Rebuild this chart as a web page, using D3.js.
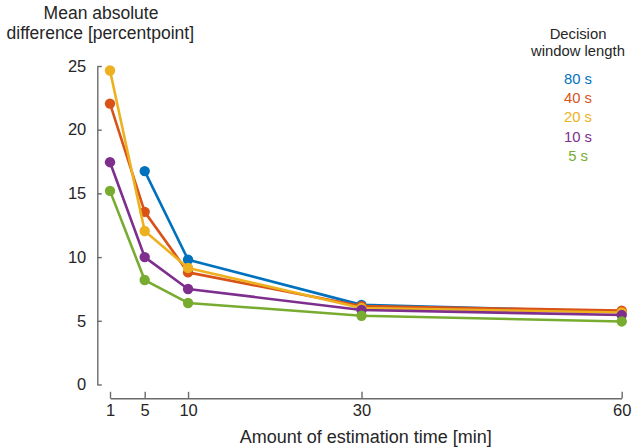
<!DOCTYPE html>
<html>
<head>
<meta charset="utf-8">
<script src="https://cdn.jsdelivr.net/npm/d3@7"></script>
<style>
  html, body { margin: 0; padding: 0; background: #fff; }
  svg { display: block; }
  text { font-family: "Liberation Sans", Arial, sans-serif; fill: #262626; }
</style>
</head>
<body>
<svg id="chart" width="632" height="448"></svg>
<script>
// ---- data ----
const times = [1, 5, 10, 30, 60];
const seriesNames = ["80 s", "40 s", "20 s", "10 s", "5 s"];
const seriesColors = ["#0072BD", "#D95319", "#EDB120", "#7E2F8E", "#77AC30"];
const values80 = [null, 16.75, 9.8, 6.25, 5.7];
const values40 = [22.05, 13.55, 8.8, 6.15, 5.8];
const values20 = [24.65, 12.05, 9.15, 6.0, 5.65];
const values10 = [17.45, 10.0, 7.5, 5.85, 5.45];
const values5  = [15.2, 8.2, 6.4, 5.4, 4.95];
const xTicks = [1, 5, 10, 30, 60];
const yTicks = [0, 5, 10, 15, 20, 25];

const allValues = [values80, values40, values20, values10, values5];

const svg = d3.select("#chart");

const x = d3.scaleLinear().domain([1, 60]).range([110, 621.7]);
const y = d3.scaleLinear().domain([0, 25]).range([384.5, 66]);

const axisColor = "#6b6b6b";

// y axis (detached, ticks inward)
const yAxisX = 97.3;
const yAxis = d3.axisLeft(y).tickValues(yTicks).tickSizeInner(-4.5).tickSizeOuter(0).tickPadding(11);
const gy = svg.append("g").attr("transform", `translate(${yAxisX},0)`).call(yAxis);
gy.select(".domain").attr("stroke", axisColor).attr("stroke-width", 1.4);
gy.selectAll(".tick line").attr("stroke", axisColor).attr("stroke-width", 1.4);
gy.selectAll(".tick text").style("font-family", "Liberation Sans, Arial, sans-serif").style("font-size", "16.5px").attr("fill", "#262626");

// x axis (detached, ticks inward)
const xAxisY = 398.3;
const xAxis = d3.axisBottom(x).tickValues(xTicks).tickSizeInner(-6.5).tickSizeOuter(0).tickPadding(6);
const gx = svg.append("g").attr("transform", `translate(0,${xAxisY})`).call(xAxis);
gx.select(".domain").attr("stroke", axisColor).attr("stroke-width", 1.4);
gx.selectAll(".tick line").attr("stroke", axisColor).attr("stroke-width", 1.4);
gx.selectAll(".tick text").style("font-family", "Liberation Sans, Arial, sans-serif").style("font-size", "16.5px").attr("fill", "#262626");

// axis titles
svg.append("text").attr("x", 365.8).attr("y", 443.3).attr("text-anchor", "middle")
  .style("font-size", "18px").text("Amount of estimation time [min]");
svg.append("text").attr("x", 101).attr("y", 19.3).attr("text-anchor", "middle")
  .style("font-size", "17.5px").text("Mean absolute");
svg.append("text").attr("x", 100.3).attr("y", 39.3).attr("text-anchor", "middle")
  .style("font-size", "17.5px").text("difference [percentpoint]");

// lines and markers
const line = d3.line()
  .defined(d => d.v !== null)
  .x(d => x(d.t))
  .y(d => y(d.v));

allValues.forEach((vals, i) => {
  const pts = times.map((t, j) => ({ t: t, v: vals[j] }));
  const g = svg.append("g");
  g.append("path").datum(pts).attr("d", line)
    .attr("fill", "none").attr("stroke", seriesColors[i]).attr("stroke-width", 2.6)
    .attr("stroke-linejoin", "round");
  g.selectAll("circle").data(pts.filter(d => d.v !== null)).enter().append("circle")
    .attr("cx", d => x(d.t)).attr("cy", d => y(d.v)).attr("r", 5.2)
    .attr("fill", seriesColors[i]);
});

// legend
const legendX = 578;
svg.append("text").attr("x", legendX).attr("y", 38.5).attr("text-anchor", "middle")
  .style("font-size", "14.8px").text("Decision");
svg.append("text").attr("x", legendX).attr("y", 56).attr("text-anchor", "middle")
  .style("font-size", "14.8px").text("window length");
seriesNames.forEach((name, i) => {
  svg.append("text").attr("x", legendX).attr("y", 84 + i * 19.2).attr("text-anchor", "middle")
    .style("font-size", "14.8px").style("fill", seriesColors[i]).text(name);
});
</script>
</body>
</html>
